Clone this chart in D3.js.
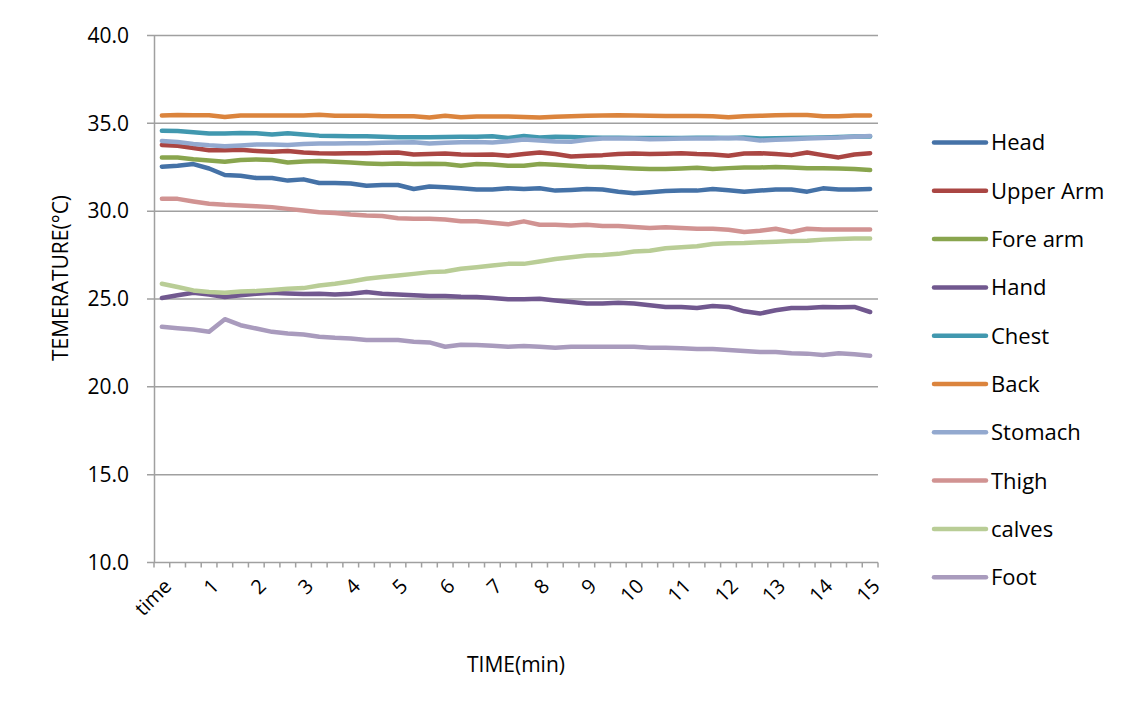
<!DOCTYPE html>
<html>
<head>
<meta charset="utf-8">
<script src="https://cdn.jsdelivr.net/npm/d3@7"></script>
<style>
  body { margin: 0; background: #fff; }
  svg text { font-family: "Open Sans", sans-serif; fill: #000; }
</style>
</head>
<body>
<svg id="chart" width="1131" height="711"></svg>
<script>
/*** DATA ***/
// one point every 20 seconds, a label on every minute
var categories = ['time','','','1','','','2','','','3','','','4','','','5','','','6','','','7','','',
  '8','','','9','','','10','','','11','','','12','','','13','','','14','','','15'];

var seriesNames = ['Head','Upper Arm','Fore arm','Hand','Chest','Back','Stomach','Thigh','calves','Foot'];
var seriesColors = ['#4572A7','#AA4643','#89A54E','#71588F','#4198AF','#DB843D','#93A9CF','#D19392','#B9CD96','#A99BBD'];

var head = [32.53,32.58,32.68,32.43,32.06,32.02,31.89,31.89,31.74,31.81,31.60,31.60,31.58,31.45,31.49,31.49,
  31.26,31.40,31.36,31.30,31.23,31.23,31.30,31.26,31.30,31.17,31.21,31.26,31.23,31.11,31.02,31.08,31.15,
  31.17,31.17,31.26,31.19,31.11,31.17,31.23,31.23,31.11,31.30,31.23,31.23,31.26];
var upperArm = [33.77,33.72,33.60,33.47,33.47,33.49,33.43,33.38,33.42,33.34,33.30,33.28,33.30,33.30,33.32,33.34,
  33.23,33.25,33.28,33.23,33.21,33.23,33.15,33.25,33.34,33.25,33.11,33.15,33.19,33.25,33.28,33.25,33.27,
  33.30,33.25,33.23,33.15,33.28,33.30,33.25,33.19,33.34,33.19,33.06,33.23,33.30];
var foreArm = [33.06,33.06,32.96,32.89,32.81,32.91,32.94,32.91,32.77,32.83,32.85,32.81,32.77,32.72,32.68,32.72,
  32.68,32.70,32.68,32.58,32.68,32.66,32.58,32.58,32.68,32.64,32.58,32.53,32.51,32.47,32.43,32.40,32.40,
  32.43,32.47,32.40,32.45,32.49,32.49,32.51,32.49,32.45,32.45,32.43,32.40,32.34];
var hand = [25.06,25.21,25.36,25.25,25.11,25.21,25.30,25.36,25.32,25.28,25.30,25.25,25.30,25.40,25.30,25.25,
  25.21,25.17,25.17,25.13,25.11,25.06,24.98,24.98,25.02,24.92,24.83,24.74,24.74,24.79,24.74,24.64,24.55,
  24.55,24.49,24.60,24.55,24.30,24.17,24.36,24.49,24.49,24.55,24.53,24.55,24.26];
var chest = [34.58,34.57,34.49,34.42,34.42,34.45,34.44,34.36,34.43,34.36,34.30,34.28,34.26,34.26,34.24,34.21,
  34.21,34.21,34.22,34.23,34.24,34.26,34.17,34.28,34.20,34.24,34.22,34.20,34.18,34.18,34.16,34.16,34.17,
  34.17,34.18,34.18,34.16,34.20,34.14,34.15,34.16,34.18,34.20,34.22,34.25,34.25];
var back = [35.45,35.48,35.46,35.46,35.36,35.45,35.44,35.44,35.44,35.44,35.49,35.43,35.43,35.43,35.40,35.40,
  35.40,35.33,35.43,35.34,35.39,35.39,35.39,35.36,35.33,35.38,35.40,35.43,35.45,35.46,35.44,35.43,35.42,
  35.42,35.42,35.40,35.34,35.40,35.43,35.46,35.48,35.47,35.40,35.41,35.44,35.45];
var stomach = [34.00,33.94,33.83,33.75,33.70,33.74,33.79,33.79,33.77,33.83,33.85,33.85,33.87,33.87,33.89,33.91,
  33.92,33.85,33.90,33.93,33.94,33.91,33.98,34.08,34.02,33.96,33.95,34.06,34.13,34.13,34.13,34.09,34.11,
  34.13,34.13,34.14,34.17,34.13,34.02,34.06,34.09,34.13,34.17,34.19,34.23,34.28];
var thigh = [30.70,30.70,30.55,30.42,30.36,30.32,30.28,30.23,30.13,30.04,29.94,29.89,29.81,29.75,29.72,29.60,
  29.57,29.57,29.53,29.42,29.42,29.34,29.25,29.42,29.23,29.23,29.19,29.23,29.15,29.15,29.10,29.04,29.08,
  29.04,29.00,29.00,28.94,28.81,28.89,29.00,28.81,29.00,28.96,28.96,28.96,28.96];
var calves = [25.87,25.68,25.49,25.40,25.36,25.43,25.45,25.51,25.58,25.62,25.77,25.87,26.00,26.15,26.25,26.34,
  26.43,26.53,26.57,26.72,26.81,26.91,27.00,27.00,27.13,27.28,27.38,27.47,27.51,27.57,27.70,27.75,27.89,
  27.94,28.00,28.13,28.17,28.19,28.23,28.26,28.30,28.32,28.38,28.42,28.45,28.45];
var foot = [23.42,23.34,23.26,23.13,23.85,23.51,23.32,23.13,23.04,22.98,22.85,22.79,22.75,22.66,22.66,22.66,
  22.57,22.53,22.28,22.40,22.38,22.34,22.28,22.32,22.28,22.23,22.28,22.28,22.28,22.28,22.28,22.23,22.23,
  22.19,22.15,22.15,22.10,22.04,21.98,21.98,21.91,21.89,21.81,21.91,21.85,21.77];

var yTicks = [10,15,20,25,30,35,40];

var series = [head, upperArm, foreArm, hand, chest, back, stomach, thigh, calves, foot].map(function(v, i) {
  return { name: seriesNames[i], color: seriesColors[i], values: v };
});

/*** CHART ***/
var svg = d3.select('#chart');
var plot = { left: 154, right: 878, top: 35.5, bottom: 562.5 };
var gridColor = '#A0A0A0';

var x = d3.scaleBand()
  .domain(d3.range(categories.length))
  .range([plot.left, plot.right]);
var y = d3.scaleLinear()
  .domain([10, 40])
  .range([plot.bottom, plot.top]);
var cx = function(i) { return x(i) + x.bandwidth() / 2; };

svg.append('rect')
  .attr('width', 1131)
  .attr('height', 711)
  .attr('fill', '#fff');

//gridlines
svg.append('g')
  .selectAll('line')
  .data(yTicks)
  .join('line')
  .attr('x1', plot.left - 7)
  .attr('x2', plot.right)
  .attr('y1', d => y(d))
  .attr('y2', d => y(d))
  .attr('stroke', gridColor)
  .attr('stroke-width', 1.5);

//y axis
var yAxis = svg.append('g')
  .attr('transform', 'translate(' + plot.left + ',0)')
  .call(d3.axisLeft(y).tickValues(yTicks).tickFormat(d3.format('.1f')).tickSize(0).tickPadding(25));
yAxis.select('.domain').attr('stroke', gridColor).attr('stroke-width', 1.5);
yAxis.selectAll('.tick text')
  .attr('font-size', 21)
  .attr('fill', '#000')
  .style('font-family', '"Open Sans", sans-serif');

//x axis ticks, between categories
svg.append('g')
  .selectAll('line')
  .data(d3.range(categories.length + 1))
  .join('line')
  .attr('x1', d => plot.left + d * x.bandwidth())
  .attr('x2', d => plot.left + d * x.bandwidth())
  .attr('y1', plot.bottom)
  .attr('y2', plot.bottom + 5)
  .attr('stroke', gridColor)
  .attr('stroke-width', 1.5);

//x labels
svg.append('g')
  .selectAll('text')
  .data(categories.map((c, i) => ({ label: c, i: i })).filter(d => d.label != ''))
  .join('text')
  .attr('transform', d => 'translate(' + (cx(d.i) + 6) + ',' + (plot.bottom + 20) + ') rotate(-45)')
  .attr('text-anchor', 'end')
  .attr('dy', '0.35em')
  .attr('font-size', 20)
  .text(d => d.label);

//lines
var line = d3.line()
  .x((d, i) => cx(i))
  .y(d => y(d));

svg.append('g')
  .selectAll('path')
  .data(series)
  .join('path')
  .attr('d', d => line(d.values))
  .attr('fill', 'none')
  .attr('stroke', d => d.color)
  .attr('stroke-width', 4.5)
  .attr('stroke-linejoin', 'round')
  .attr('stroke-linecap', 'round');

//axis titles
svg.append('text')
  .attr('transform', 'translate(68,278) rotate(-90)')
  .attr('text-anchor', 'middle')
  .attr('font-size', 21)
  .text('TEMERATURE(°C)');

svg.append('text')
  .attr('x', 516)
  .attr('y', 672)
  .attr('text-anchor', 'middle')
  .attr('font-size', 21)
  .text('TIME(min)');

//legend
var legend = svg.append('g')
  .selectAll('g')
  .data(series)
  .join('g')
  .attr('transform', (d, i) => 'translate(932,' + (142.5 + i * 48.3) + ')');

legend.append('line')
  .attr('x1', 2)
  .attr('x2', 54)
  .attr('stroke', d => d.color)
  .attr('stroke-width', 4.5)
  .attr('stroke-linecap', 'round');

legend.append('text')
  .attr('x', 59)
  .attr('dy', '0.36em')
  .attr('font-size', 22)
  .text(d => d.name);
</script>
</body>
</html>
